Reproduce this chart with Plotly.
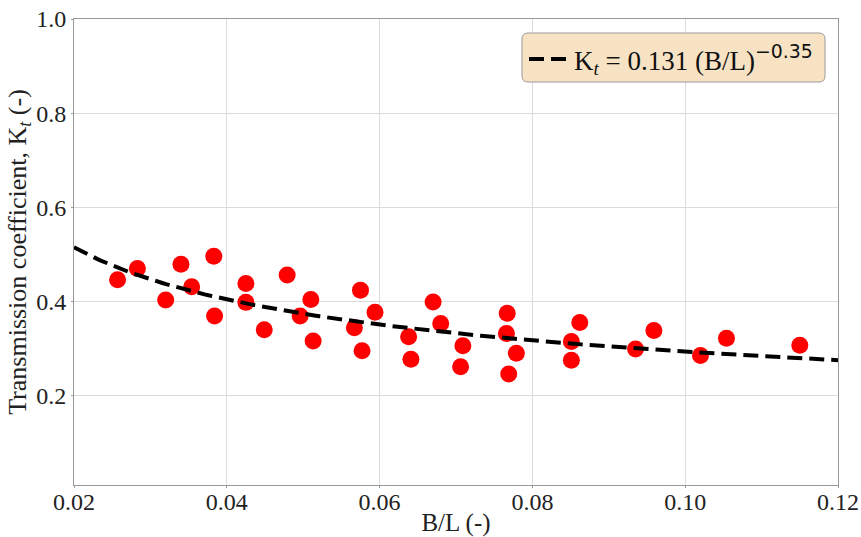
import numpy as np
import plotly.graph_objects as go

# Measured data (B/L, Kt)
bl = [0.0257, 0.0283, 0.0340, 0.0383, 0.0354, 0.0320, 0.0384, 0.0425, 0.0425, 0.0449,
      0.0479, 0.0510, 0.0496, 0.0513, 0.0575, 0.0594, 0.0567, 0.0577, 0.0638, 0.0641,
      0.0670, 0.0680, 0.0709, 0.0706, 0.0767, 0.0766, 0.0779, 0.0769, 0.0851, 0.0851,
      0.0862, 0.0935, 0.0959, 0.1020, 0.1054, 0.1150]
kt = [0.446, 0.470, 0.479, 0.496, 0.431, 0.403, 0.369, 0.438, 0.398, 0.340,
      0.456, 0.404, 0.369, 0.316, 0.424, 0.377, 0.344, 0.295, 0.325, 0.277,
      0.399, 0.353, 0.306, 0.261, 0.375, 0.332, 0.290, 0.246, 0.315, 0.275,
      0.355, 0.299, 0.338, 0.285, 0.322, 0.307]

# Fitted relation stated in the legend: Kt = 0.131 (B/L)^-0.35
fit_coef = 0.131
fit_exp = -0.35
fit_x = np.linspace(0.02, 0.12, 200)
fit_y = fit_coef * fit_x ** fit_exp

xticks = [0.02, 0.04, 0.06, 0.08, 0.10, 0.12]
xtick_text = ["0.02", "0.04", "0.06", "0.08", "0.10", "0.12"]
yticks = [0.2, 0.4, 0.6, 0.8, 1.0]
ytick_text = ["0.2", "0.4", "0.6", "0.8", "1.0"]

serif = "Liberation Serif, Times New Roman, serif"

W, H = 861, 537
ML, MR, MT, MB = 74, 23, 19, 52
PW, PH = W - ML - MR, H - MT - MB

def px_to_paper(px, py):
    return (px - ML) / PW, (H - MB - py) / PH

# rounded legend frame (pixel box -> paper coords)
bx0, by0, bx1, by1 = 522, 33, 825, 82
r = 6
x0, y_top = px_to_paper(bx0, by0)
x1, y_bot = px_to_paper(bx1, by1)
rx, ry = r / PW, r / PH
frame_path = (
    f"M{x0+rx},{y_top} L{x1-rx},{y_top} Q{x1},{y_top} {x1},{y_top-ry} "
    f"L{x1},{y_bot+ry} Q{x1},{y_bot} {x1-rx},{y_bot} "
    f"L{x0+rx},{y_bot} Q{x0},{y_bot} {x0},{y_bot+ry} "
    f"L{x0},{y_top-ry} Q{x0},{y_top} {x0+rx},{y_top} Z"
)

fig = go.Figure()
fig.add_trace(go.Scatter(
    x=bl, y=kt, mode="markers",
    marker=dict(color="#ff0000", size=17, line=dict(width=0)),
    showlegend=False,
))
fig.add_trace(go.Scatter(
    x=fit_x, y=fit_y, mode="lines",
    line=dict(color="black", width=4, dash="15px,7px"),
    name=("K<sub><i>t</i></sub> = 0.131 (B/L)"
          "<sup><span style=\"font-family:DejaVu Sans\">\u22120.35</span></sup>"),
    showlegend=True,
))

fig.add_shape(type="path", xref="paper", yref="paper", path=frame_path,
              fillcolor="rgba(247,227,196,1)", line=dict(color="#9a9a9a", width=1),
              layer="above")

lx, ly = px_to_paper(524, 35)
fig.update_layout(
    width=W, height=H,
    margin=dict(l=ML, r=MR, t=MT, b=MB, autoexpand=False),
    paper_bgcolor="white", plot_bgcolor="white",
    font=dict(family=serif, size=24, color="#222"),
    legend=dict(
        x=lx, y=ly, xanchor="left", yanchor="top",
        bgcolor="rgba(0,0,0,0)", borderwidth=0,
        font=dict(family=serif, size=27, color="#111"),
        itemwidth=40,
    ),
    xaxis=dict(
        range=[0.02, 0.12], tickvals=xticks, ticktext=xtick_text,
        showgrid=True, gridcolor="#dcdcdc", gridwidth=1,
        showline=True, linecolor="#999", linewidth=1, mirror=True,
        ticks="outside", ticklen=2, tickcolor="#999",
        zeroline=False, automargin=False, ticklabeloverflow="allow",
        ticklabelstandoff=-7,
        title=dict(text="B/L (-)", standoff=16, font=dict(size=25)),
        tickfont=dict(size=24),
    ),
    yaxis=dict(
        range=[0.01, 1.0], tickvals=yticks, ticktext=ytick_text,
        showgrid=True, gridcolor="#dcdcdc", gridwidth=1,
        showline=True, linecolor="#999", linewidth=1, mirror=True,
        ticks="outside", ticklen=2, tickcolor="#999",
        zeroline=False, automargin=False, ticklabeloverflow="allow",
        title=dict(text="Transmission coefficient, K<sub><i>t</i></sub> (-)", standoff=2,
                   font=dict(size=26)),
        tickfont=dict(size=24),
    ),
)

fig.write_html("out.html", config={"displayModeBar": False},
               post_script="document.body.style.margin='0px';")
